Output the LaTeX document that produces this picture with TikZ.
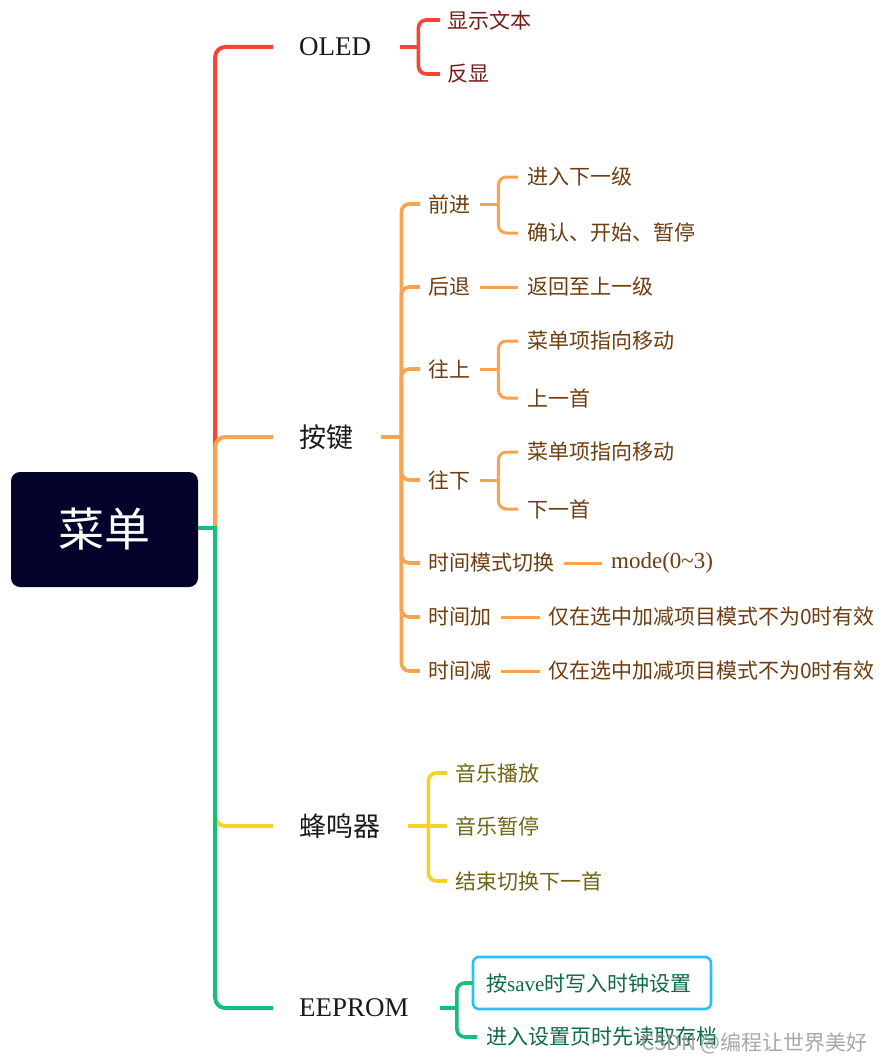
\documentclass[tikz,border=0pt]{standalone}
\usepackage{fontspec}
\setmainfont{Liberation Serif}
\newfontfamily\cjk{Noto Sans CJK SC}
\usetikzlibrary{calc}
\definecolor{cRed}{HTML}{FA4336}
\definecolor{cOrange}{HTML}{F9A250}
\definecolor{cYellow}{HTML}{F4D22A}
\definecolor{cGreen}{HTML}{14BF7B}
\definecolor{cRoot}{HTML}{02022A}
\definecolor{cBlue}{HTML}{2CBEF6}
\definecolor{tRed}{HTML}{771A1A}
\definecolor{tBrown}{HTML}{6E3D10}
\definecolor{tOlive}{HTML}{6F6415}
\definecolor{tGreen}{HTML}{0E6A47}
\definecolor{tMain}{HTML}{1A1A1A}
\begin{document}
\begin{tikzpicture}[x=1pt,y=-1pt,
  txt/.style={anchor=west, inner sep=0pt},
  rootbox/.style={fill=cRoot, rounded corners=9pt, minimum width=187pt, minimum height=115pt, inner sep=0pt, text=white, font=\cjk\fontsize{46}{50}\selectfont},
  maincjk/.style={txt, text=tMain, font=\cjk\fontsize{27}{30}\selectfont},
  mainlat/.style={txt, text=tMain, font=\fontsize{27}{30}\selectfont},
  subtxt/.style={txt, font=\cjk\fontsize{21}{24}\selectfont},
  sublat/.style={txt, font=\fontsize{23}{26}\selectfont},
  mline/.style={line width=4pt, rounded corners=10pt},
  bline/.style={line width=3.6pt, rounded corners=8pt},
  sline/.style={line width=3pt, rounded corners=8pt},
  bluebox/.style={draw=cBlue, line width=2.6pt, rounded corners=6pt}
]
\useasboundingbox[fill=white] (0,0) rectangle (883,1062);

% root and main nodes
\node[rootbox] (root) at (104.5,529.5) {菜单};
\node[mainlat] (oled) at (299,47) {OLED};
\node[maincjk] (key) at (299,437) {按键};
\node[maincjk] (buzz) at (299,826) {蜂鸣器};
\node[mainlat] (eep) at (299,1008) {EEPROM};

\coordinate (J) at ($(root.east)+(17,-2)$);

% main branches
\draw[mline,cRed] (J) |- ([xshift=-26pt]oled.west);
\draw[mline,cOrange] (J) |- ([xshift=-26pt]key.west);
\draw[mline,cYellow] (J) |- ([xshift=-26pt]buzz.west);
\draw[mline,cGreen] (J) |- ([xshift=-26pt]eep.west);
\draw[line width=4pt,cGreen] (root.east |- J) -- ([xshift=2pt]J);

% OLED
\node[subtxt,text=tRed] (o1) at (447,20) {显示文本};
\node[subtxt,text=tRed] (o2) at (447,74) {反显};
\draw[bline,cRed] ([xshift=29pt]oled.east) -- ++(18,0) coordinate (oB);
\draw[bline,cRed] (oB) |- ([xshift=-7pt]o1.west);
\draw[bline,cRed] (oB) |- ([xshift=-7pt]o2.west);

% keys
\node[subtxt,text=tBrown] (k1) at (428,204) {前进};
\node[subtxt,text=tBrown] (k2) at (428,287) {后退};
\node[subtxt,text=tBrown] (k3) at (428,369) {往上};
\node[subtxt,text=tBrown] (k4) at (428,480) {往下};
\node[subtxt,text=tBrown] (k5) at (428,563) {时间模式切换};
\node[subtxt,text=tBrown] (k6) at (428,617) {时间加};
\node[subtxt,text=tBrown] (k7) at (428,671) {时间减};
\draw[bline,cOrange] ([xshift=28pt]key.east) -- ++(20,0) coordinate (kB);
\foreach \k in {k1,k2,k3,k4,k5,k6,k7}{
  \draw[bline,cOrange] (kB) |- ([xshift=-8pt]\k.west);
}

\node[subtxt,text=tBrown] (k11) at (527,177) {进入下一级};
\node[subtxt,text=tBrown] (k12) at (527,233) {确认、开始、暂停};
\draw[sline,cOrange] ([xshift=10pt]k1.east) -- ++(18,0) coordinate (k1B);
\draw[sline,cOrange] (k1B) |- ([xshift=-9pt]k11.west);
\draw[sline,cOrange] (k1B) |- ([xshift=-9pt]k12.west);

\node[subtxt,text=tBrown] (k21) at (527,287) {返回至上一级};
\draw[sline,cOrange] ([xshift=10pt]k2.east) -- ([xshift=-9pt]k21.west);

\node[subtxt,text=tBrown] (k31) at (527,341) {菜单项指向移动};
\node[subtxt,text=tBrown] (k32) at (527,398) {上一首};
\draw[sline,cOrange] ([xshift=10pt]k3.east) -- ++(18,0) coordinate (k3B);
\draw[sline,cOrange] (k3B) |- ([xshift=-9pt]k31.west);
\draw[sline,cOrange] (k3B) |- ([xshift=-9pt]k32.west);

\node[subtxt,text=tBrown] (k41) at (527,452) {菜单项指向移动};
\node[subtxt,text=tBrown] (k42) at (527,509) {下一首};
\draw[sline,cOrange] ([xshift=10pt]k4.east) -- ++(18,0) coordinate (k4B);
\draw[sline,cOrange] (k4B) |- ([xshift=-9pt]k41.west);
\draw[sline,cOrange] (k4B) |- ([xshift=-9pt]k42.west);

\node[sublat,text=tBrown] (k51) at (611,563) {mode(0\textasciitilde 3)};
\draw[sline,cOrange] ([xshift=10pt]k5.east) -- ([xshift=-9pt]k51.west);

\node[subtxt,text=tBrown] (k61) at (548,617) {仅在选中加减项目模式不为0时有效};
\draw[sline,cOrange] ([xshift=10pt]k6.east) -- ([xshift=-8pt]k61.west);
\node[subtxt,text=tBrown] (k71) at (548,671) {仅在选中加减项目模式不为0时有效};
\draw[sline,cOrange] ([xshift=10pt]k7.east) -- ([xshift=-8pt]k71.west);

% buzzer
\node[subtxt,text=tOlive] (b1) at (455,773) {音乐播放};
\node[subtxt,text=tOlive] (b2) at (455,826) {音乐暂停};
\node[subtxt,text=tOlive] (b3) at (455,881) {结束切换下一首};
\draw[bline,cYellow] ([xshift=28pt]buzz.east) -- ++(20,0) coordinate (bB);
\draw[bline,cYellow] (bB) |- ([xshift=-8pt]b1.west);
\draw[bline,cYellow] (bB) -- ([xshift=-8pt]b2.west);
\draw[bline,cYellow] (bB) |- ([xshift=-8pt]b3.west);

% EEPROM
\node[subtxt,text=tGreen] (e1) at (486,983) {按{\fontspec{Liberation Serif}save}时写入时钟设置};
\node[subtxt,text=tGreen] (e2) at (486,1037) {进入设置页时先读取存档};
\draw[bluebox] ($(e1.west)+(-13,-26)$) rectangle ($(e1.west)+(225,26)$);
\draw[bline,cGreen] ([xshift=31pt]eep.east) -- ++(17,0) coordinate (eB);
\draw[bline,cGreen] (eB) |- ([xshift=-13pt]e1.west);
\draw[bline,cGreen] (eB) |- ([xshift=-9pt]e2.west);

% watermark
\node[txt, text=gray!80, opacity=0.85, font=\cjk\fontsize{21}{24}\selectfont] (wm) at (641,1043) {CSDN @编程让世界美好};
\end{tikzpicture}
\end{document}
